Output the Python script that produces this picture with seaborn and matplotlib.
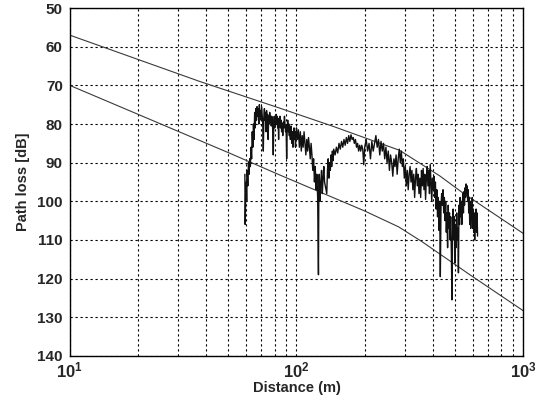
import numpy as np
import pandas as pd
import matplotlib
matplotlib.use("Agg")
import matplotlib.pyplot as plt
import matplotlib.ticker as mticker
import seaborn as sns

# model curves (distance m, path loss dB)
upper_d = [10, 37.5, 84.5, 145, 285, 428, 544, 1000]
upper_pl = [57, 69, 75.9, 80.6, 86.8, 93.4, 97.9, 108.3]
lower_d = [10, 51, 84.5, 200, 282, 357, 582, 1000]
lower_pl = [70, 87.6, 93.2, 102.5, 106.6, 110.4, 119, 128.3]

# measured path loss
meas_d = [
    59.2, 59.4, 59.7, 60.0, 60.3, 60.6, 61.0, 61.4, 61.8, 62.2, 62.6, 63.0, 63.4, 63.8,
    64.2, 64.6, 65.0, 65.4, 65.8, 66.2, 66.6, 67.0, 67.4, 67.8, 68.2, 68.6, 69.0, 69.4,
    69.8, 70.2, 70.6, 71.0, 71.4, 71.8, 72.2, 72.6, 73.0, 73.4, 73.8, 74.2, 74.6, 75.0,
    75.4, 75.8, 76.2, 76.6, 77.0, 77.4, 77.8, 78.2, 78.6, 79.0, 79.4, 79.8, 80.2, 80.6,
    81.0, 81.4, 81.8, 82.2, 82.6, 83.0, 83.4, 83.8, 84.2, 84.6, 85.0, 85.5, 86.0, 86.5,
    87.0, 87.5, 88.0, 88.5, 89.0, 89.5, 90.0, 90.5, 91.0, 91.5, 92.0, 92.5, 93.0, 93.5,
    94.0, 94.5, 95.0, 95.5, 96.0, 96.5, 97.0, 97.5, 98.0, 98.5, 99.0, 99.5,
    100, 101, 102, 103, 104, 105, 106, 107, 108, 109, 110, 111, 112, 113, 114, 115,
    116, 117, 118, 119, 120, 121, 122, 123, 124, 125, 125.5, 126, 127, 128, 129, 130,
    131, 132, 133, 136, 137, 138, 139, 140, 141, 142, 143, 144, 145, 146, 148, 150,
    152, 154, 156, 158, 160, 162, 164, 166, 168, 170, 172, 174, 176, 178, 180, 182,
    184, 186, 188, 190, 192, 194, 196, 198,
    200, 203, 206, 209, 212, 215, 218, 221, 224, 227, 230, 233, 236, 239, 242, 245,
    248, 251, 254, 257, 260, 263, 266, 269, 272, 275, 278, 281, 284, 287, 290, 293,
    296, 299, 302, 305, 308, 311, 314, 317, 320, 323, 326, 329, 332, 335, 338, 341,
    344, 347, 350, 353, 356, 359, 362, 365, 368, 371, 374, 377, 380, 383, 386, 389,
    392, 395, 398, 401, 404, 407, 410, 413, 416, 419, 422, 425, 428, 431, 434, 437,
    440, 443, 446, 449, 452, 455, 458, 461, 464, 467, 470, 473, 476, 479, 482, 485,
    488, 491, 494, 497, 500, 503, 506, 509, 512, 515, 518, 521, 524, 527, 530, 533,
    536, 539, 542, 545, 548, 551, 554, 557, 560, 563, 566, 569, 572, 575, 578, 581,
    584, 587, 590, 593, 596, 599, 602, 605, 608, 611, 614, 617, 620, 623, 626, 629,
]
meas_pl = [
    93, 106, 98, 95, 100, 92, 96, 90, 93, 89, 91, 86, 89, 82,
    86, 80, 84, 77, 81, 76, 79, 75.5, 78, 76, 80, 75, 78, 76.5,
    79, 75.5, 78, 80, 87, 78, 76, 79, 77, 82, 76.5, 79, 77.5, 84,
    78, 80, 77, 79.5, 78, 80.5, 78, 79, 82, 88, 80, 78, 81, 78.5,
    80, 77.5, 79, 78, 81, 79, 84, 78.5, 80, 78, 81, 79, 82, 80,
    83, 79.5, 81, 78, 80, 82, 80.5, 89, 81, 79, 82, 80, 83, 81,
    84, 80.5, 82, 85, 82, 86, 83, 81, 84, 82, 86, 83,
    81, 84, 81.5, 86, 82, 87, 83, 86, 82, 85, 88, 84, 87, 83.5, 86, 89,
    85, 88, 92, 89, 95, 91, 97, 93, 99, 119, 96, 93, 100, 95, 92, 98,
    94, 91, 95, 98, 92, 89, 94, 90, 92, 88, 91, 87, 89.5, 86.5, 88, 86,
    87.5, 85, 86.5, 84.5, 86, 84, 85.5, 83.5, 85, 83, 84.5, 82.8, 84, 83.5, 85, 84,
    86, 85, 87, 85.5, 87, 85.5, 86.5, 90.5,
    86, 84, 87, 85, 89, 84.5, 87, 85, 83, 86, 84, 88, 84.5, 87, 85, 89,
    86, 90, 87, 92, 88, 90, 93.5, 89, 91, 88, 93, 89, 86.5, 90, 87, 91,
    89, 94, 91, 96, 92, 97, 93, 91, 95, 92, 97, 93, 99, 94, 91.5, 96,
    93, 98, 94, 99, 92, 96, 91.5, 97, 93, 99.5, 94, 91, 96, 92, 98, 90.5,
    95, 100, 94, 97, 93.5, 99, 95, 102, 97, 104, 99, 107.5, 100, 119.5, 101, 98,
    101, 97, 103, 99, 105, 100, 108, 103, 112, 101, 107, 103, 110, 104, 113, 125.5,
    108, 102, 110, 104, 116, 106, 112, 103, 110, 107, 118.5, 101, 106, 99, 104, 100,
    106, 101, 98, 103, 97.5, 101, 96.5, 99, 95.5, 98, 96, 100, 97, 103, 99, 106,
    100, 107, 101, 104, 99, 107, 102, 108, 103, 110, 104, 107, 102, 108, 103, 109,
]

meas = pd.DataFrame({"d": meas_d, "pl": meas_pl})
up = pd.DataFrame({"d": upper_d, "pl": upper_pl})
lo = pd.DataFrame({"d": lower_d, "pl": lower_pl})

sns.set_style("white")
plt.rcParams["font.family"] = ["Liberation Sans", "DejaVu Sans"]
plt.rcParams["mathtext.fontset"] = "custom"
plt.rcParams["mathtext.bf"] = "Liberation Sans:bold"
plt.rcParams["mathtext.rm"] = "Liberation Sans:bold"

fig = plt.figure(figsize=(5.45, 4.04), dpi=100)
ax = fig.add_axes([0.128, 0.119, 0.832, 0.861])

sns.lineplot(data=up, x="d", y="pl", ax=ax, color="#3a3a3a", linewidth=0.8,
             estimator=None, sort=False)
sns.lineplot(data=lo, x="d", y="pl", ax=ax, color="#3a3a3a", linewidth=0.8,
             estimator=None, sort=False)
sns.lineplot(data=meas, x="d", y="pl", ax=ax, color="#111111", linewidth=1.0,
             estimator=None, sort=False)

ax.set_xscale("log")
ax.set_xlim(10, 1000)
ax.set_ylim(140, 50)
ax.set_yticks(np.arange(50, 141, 10))
ax.xaxis.set_major_locator(mticker.FixedLocator([10, 100, 1000]))
ax.xaxis.set_major_formatter(mticker.FixedFormatter(
    [r"$\mathbf{10^{1}}$", r"$\mathbf{10^{2}}$", r"$\mathbf{10^{3}}$"]))
ax.xaxis.set_minor_locator(mticker.LogLocator(base=10, subs=np.arange(2, 10)))
ax.xaxis.set_minor_formatter(mticker.NullFormatter())

grid_kw = dict(color="black", linestyle=(0, (2, 2.5)), linewidth=0.8)
ax.grid(which="major", axis="both", **grid_kw)
ax.grid(which="minor", axis="x", **grid_kw)

ax.tick_params(axis="both", which="both", direction="in", length=0,
               labelsize=11, pad=5)
for lab in ax.get_yticklabels():
    lab.set_fontweight("bold")
ax.tick_params(axis="x", labelsize=12, pad=3)

for sp in ax.spines.values():
    sp.set_color("black")
    sp.set_linewidth(1.0)

ax.set_xlabel("Distance (m)", fontsize=10.5, fontweight="bold", labelpad=1)
ax.set_ylabel("Path loss [dB]", fontsize=10.5, fontweight="bold", labelpad=5)

fig.savefig("out.png", dpi=100)
